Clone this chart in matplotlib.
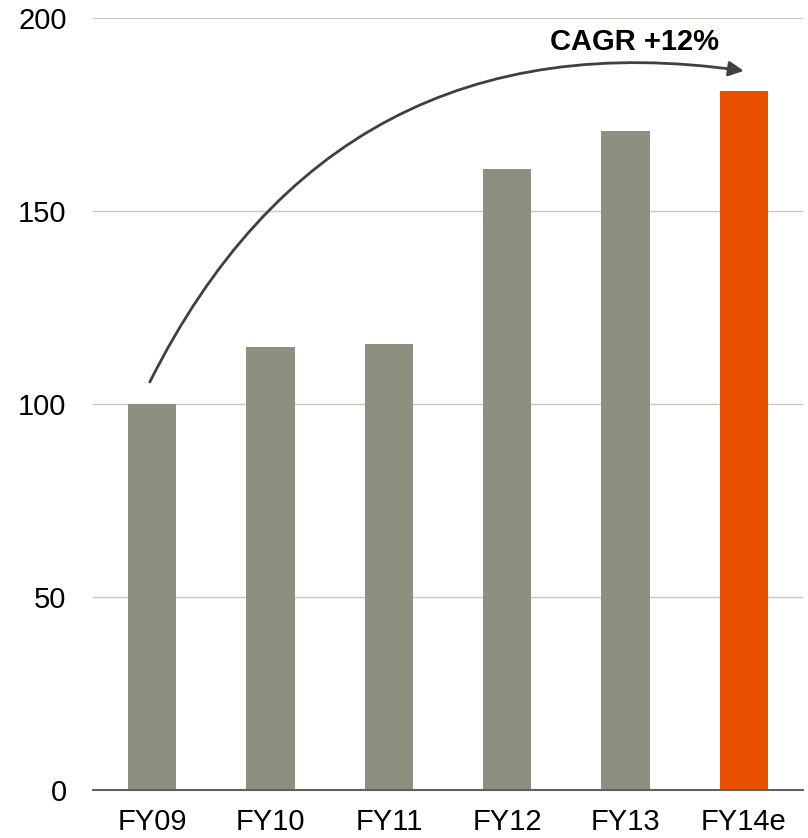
import matplotlib
matplotlib.use("Agg")
import matplotlib.pyplot as plt

categories = ["FY09", "FY10", "FY11", "FY12", "FY13", "FY14e"]
values = [100, 114.8, 115.5, 161, 170.7, 181.2]
colors = ["#8f8f7f"] * 5 + ["#e85000"]
yticks = [0, 50, 100, 150, 200]
cagr_label = "CAGR +12%"

plt.rcParams['font.family'] = ['Liberation Sans', 'DejaVu Sans']

fig = plt.figure(figsize=(8.08, 8.38), dpi=100)
ax = fig.add_axes([93/808, 48/838, 710/808, 772/838])

x = list(range(len(categories)))
ax.bar(x, values, width=0.41, color=colors, zorder=3)
ax.set_xlim(-0.5, len(categories) - 0.5)
ax.set_ylim(0, 200)
ax.set_yticks(yticks)
ax.set_xticks(x)
ax.set_xticklabels(categories)
ax.yaxis.grid(True, color="#c8c8c0", linewidth=1.0, zorder=0)
ax.set_axisbelow(True)
for s in ["top", "right", "left"]:
    ax.spines[s].set_visible(False)
ax.spines["bottom"].set_color("#606060")
ax.spines["bottom"].set_linewidth(1.5)
ax.spines["bottom"].set_zorder(4)
ax.tick_params(axis="both", length=0, labelsize=21, colors="black")
ax.tick_params(axis="y", pad=19)
ax.tick_params(axis="x", pad=13)

ax.annotate("", xy=(5.0, 186.3), xytext=(-0.02, 105.7),
            arrowprops=dict(arrowstyle="-|>,head_length=0.9,head_width=0.45",
                            connectionstyle="arc3,rad=-0.36",
                            color="#404040", lw=2.0,
                            shrinkA=0, shrinkB=0), zorder=5)
ax.text(4.08, 193.8, cagr_label, ha="center", va="center",
        fontsize=21, fontweight="bold", color="black")

fig.savefig("out.png", dpi=100)
